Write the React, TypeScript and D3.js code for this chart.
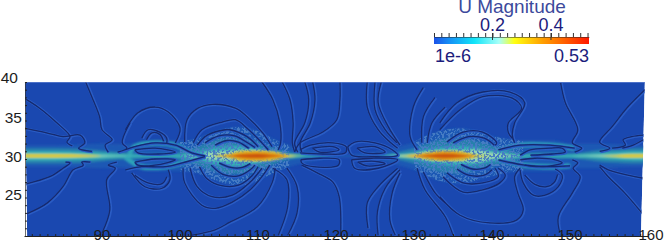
import React, { useEffect, useRef } from "react";
import * as d3 from "d3";

type Pt = [number, number];

const lonTicks = [90, 100, 110, 120, 130, 140, 150, 160];
const latTicks = [25, 30, 35, 40];
const barLabels = [0.2, 0.4];
const barDomain = [0.000001, 0.53];
const barColors = [
  [0, "#1c52e8"],
  [0.1, "#1590f5"],
  [0.26, "#10e4f8"],
  [0.42, "#a8fff8"],
  [0.52, "#ffff10"],
  [0.7, "#ffa000"],
  [1, "#ff1800"],
] as const;

// half width of each speed band around the jet axis, in degrees of latitude
const jetLon = [80, 84, 88, 90, 92, 94, 96, 98, 100, 102, 104, 106, 108, 110, 112, 114, 116, 118, 120, 122, 124, 126, 128, 130, 132, 134, 136, 138, 140, 142, 144, 146, 148, 150, 152, 154, 156, 158, 160];
const haloWidth = [1.4, 1.4, 1.5, 1.6, 1.5, 1.6, 2, 2, 2, 2.2, 3, 3.6, 3.8, 3.2, 2.2, 1.4, 0.9, 0.5, 0.2, 0.2, 0.4, 0.7, 1.2, 1.8, 2.8, 3.4, 3.6, 3.2, 2.6, 2.2, 2, 2, 2, 1.6, 1.6, 1.6, 1.5, 1.4, 1.4];
const tealWidth = [1, 1, 0.9, 0.7, 0.5, 0.4, 0.3, 0.3, 0.5, 1.1, 1.9, 2.3, 2.3, 1.9, 1.1, 0.5, 0.25, 0.1, 0, 0, 0, 0.1, 0.5, 1, 1.7, 2.2, 2.3, 1.9, 1.4, 0.7, 0.4, 0.4, 0.4, 0.3, 0.5, 0.8, 0.9, 1, 1];
const cyanWidth = [0.6, 0.6, 0.5, 0.4, 0.25, 0.2, 0.15, 0.15, 0.2, 0.5, 1, 1.3, 1.3, 1, 0.5, 0.25, 0.12, 0.05, 0, 0, 0, 0.05, 0.25, 0.45, 0.9, 1.2, 1.3, 1.1, 0.7, 0.4, 0.2, 0.15, 0.15, 0.2, 0.25, 0.4, 0.5, 0.6, 0.6];
const paleWidth = [0.3, 0.3, 0.2, 0.1, 0.05, 0, 0, 0, 0, 0.15, 0.5, 0.6, 0.7, 0.7, 0.4, 0.12, 0, 0, 0, 0, 0, 0, 0.1, 0.25, 0.6, 0.7, 0.7, 0.8, 0.4, 0.15, 0, 0, 0, 0, 0.05, 0.12, 0.2, 0.3, 0.3];
const yellowWidth = [0.14, 0.14, 0.08, 0, 0, 0, 0, 0, 0, 0, 0, 0.15, 0.6, 0.65, 0.5, 0.06, 0, 0, 0, 0, 0, 0, 0, 0.12, 0.45, 0.6, 0.55, 0.1, 0, 0, 0, 0, 0, 0, 0, 0, 0.06, 0.14, 0.14];
const orangeWidth = [0, 0, 0, 0, 0, 0, 0, 0, 0, 0, 0, 0.05, 0.42, 0.5, 0.3, 0, 0, 0, 0, 0, 0, 0, 0, 0.03, 0.3, 0.5, 0.35, 0, 0, 0, 0, 0, 0, 0, 0, 0, 0, 0, 0];
const redWidth = [0, 0, 0, 0, 0, 0, 0, 0, 0, 0, 0, 0, 0.15, 0.22, 0.05, 0, 0, 0, 0, 0, 0, 0, 0, 0, 0.1, 0.22, 0.1, 0, 0, 0, 0, 0, 0, 0, 0, 0, 0, 0, 0];

const bands: [number[], string][] = [
  [haloWidth, "#1f58b4"],
  [tealWidth, "#2680ac"],
  [cyanWidth, "#34aeb8"],
  [paleWidth, "#94d4b4"],
  [yellowWidth, "#d8c838"],
  [orangeWidth, "#e08a10"],
  [redWidth, "#c84808"],
];

// stretches of the jet where the field is mottled, as first and last index in jetLon
const mottled: Pt[] = [[8, 15], [23, 30]];

// the jet splits in two arms on the way between the hot cores
const jetArms: Pt[][] = [
  [[93.5, 30.6], [94.2, 31.6], [96.8, 32.1], [99.4, 31.8], [101.5, 30.8], [103.2, 30.4]],
  [[93, 30.2], [95.1, 29], [98.1, 29], [100.3, 29.5], [103.2, 30.3]],
  [[140.8, 31], [143.6, 31.8], [147.4, 31.8], [150.6, 31.4]],
  [[140.8, 29.9], [144.2, 29.2], [147.4, 29], [150, 29.1]],
];

const leftContours: Pt[][] = [
  [[80, 37.9], [82, 36.6], [84.2, 34.7], [85.9, 32.9], [85.5, 32.2], [86.2, 31.7]],
  [[80, 34], [82.9, 33.4], [85, 32.9], [87.2, 33.1], [87.8, 32.1], [87, 31.4], [88.7, 31]],
  [[87.9, 40], [88.7, 38.05], [89.7, 35.45], [90, 33.8], [91.3, 32.5], [90.4, 31.8], [90.8, 30.9]],
  [[80.2, 26.75], [83.3, 27.7], [85, 28.8], [85.9, 29.5], [85.3, 29.6]],
  [[80.4, 22.9], [83, 24.3], [85, 26.4], [86.3, 28.6], [87.6, 29.2], [87.4, 29.6], [88.5, 29.6]],
  [[90, 20.4], [91, 23.4], [90.6, 27.3], [91.7, 28.8], [90.8, 29.2], [91.9, 29.6]],
  [[93.6, 34.7], [92.6, 32.1], [93.2, 31.4], [92, 30.9]],
  [[93, 33.8], [94.6, 36], [96.8, 36.75], [98.5, 36.1], [100, 34], [99.4, 32.1]],
  [[95.1, 32.7], [95.9, 33.8], [97.4, 33.5], [98.3, 32.7], [98.3, 32.1]],
  [[95.7, 32.5], [96.4, 33.4], [97.4, 33.2], [97.9, 32.3]],
  [[93, 31.2], [94.2, 31.6], [96.8, 32.1], [99.4, 31.8], [101.5, 30.8], [103.2, 30.4]],
  [[93, 28.6], [95.1, 29], [98.1, 29], [100.3, 29.5], [103.2, 30.3]],
  [[94.2, 31.2], [96.8, 31.4], [99.4, 30.9], [97.2, 30.65], [94.6, 30.8], [94.2, 31.2]],
  [[94.2, 29.6], [96.8, 30], [99.4, 29.9], [96.8, 29.2], [94.6, 29.2], [94.2, 29.6]],
  [[93.8, 28.2], [95.5, 26.4], [97.7, 26.2], [98.7, 27.3], [98.5, 28.6]],
  [[94.2, 27.9], [95.9, 26.9], [97.7, 26.8], [98.3, 27.7]],
];

// rings round the western hot core
const westRings: Pt[][] = [
  [[100.6, 32.2], [100.9, 35.1], [102.3, 36.6], [104.1, 37.1], [107.1, 36.6], [108.6, 35.5], [110.6, 33.4], [111.8, 31.6]],
  [[101.7, 32.1], [102.8, 33.8], [105.4, 34.8], [107.1, 35.1], [108.6, 34], [110.5, 32.1], [111.3, 31.2]],
  [[102.2, 31.8], [103.5, 33.1], [105.8, 33.8], [106.4, 33.8], [108.6, 32.9], [110, 31.6]],
  [[103.2, 32.1], [105, 33], [107, 33], [108.5, 32.2], [109.6, 31.5]],
  [[104.5, 31.8], [106, 32.4], [107.5, 32.2], [108.8, 31.4]],
  [[101.5, 20.1], [104.5, 20.8], [106.4, 21.8], [109.9, 23.8], [111.8, 26.9], [112.2, 28.8]],
  [[100.4, 28.8], [100.6, 26.9], [102.8, 24], [104.5, 23.6], [106.7, 24.4], [109, 26], [110.5, 27.7], [111.5, 29.2]],
  [[101.3, 28.8], [102.2, 26.4], [104.1, 25.1], [106.7, 25.3], [109, 27], [110.5, 28.8]],
  [[102.5, 29], [103.5, 27.4], [105.5, 26.5], [107.5, 26.6], [109.2, 27.8], [110, 29]],
  [[104, 29.2], [105.5, 28], [107.5, 27.8], [109, 28.6], [109.6, 29.2]],
  [[105, 29.5], [106.5, 28.9], [108, 28.9], [109, 29.4]],
];

const midContours: Pt[][] = [
  [[110.5, 40], [111.9, 37.7], [112.8, 34.7], [112.9, 32.1], [112.6, 31.2]],
  [[113.1, 40], [114.1, 37.7], [114.5, 34.7], [114.4, 32.1], [114.7, 30.9]],
  [[116, 40], [116.5, 37.7], [116, 34.7], [114.7, 32.1], [115.1, 30.9]],
  [[117, 40], [117.3, 37.7], [116.7, 34.7], [115.4, 32.1], [115.6, 30.9]],
  [[120.5, 40], [120.5, 37.7], [120.1, 35.1], [118.3, 33.5], [115.4, 32.1], [114.7, 30.9]],
  [[115.4, 31.2], [116.7, 31.8], [119.6, 32.1], [121.3, 31.6], [121.2, 30.8], [118.3, 30.65], [115.4, 30.8]],
  [[117, 31.4], [119.6, 31.6], [120.4, 31.2], [117.9, 30.9], [117, 31.4]],
  [[115.5, 29.9], [117.9, 30.1], [120.4, 29.9], [120.3, 29.2], [117.1, 29], [115.6, 29.5], [115.5, 29.9]],
  [[115.6, 29.2], [117.6, 28.2], [119.6, 27], [120.4, 25.1], [120.6, 20]],
  [[111.9, 28.8], [113.7, 27.3], [113.8, 23.8], [112.6, 20.1]],
  [[113.7, 28.8], [115, 26.4], [115, 23], [113.8, 20.1]],
  [[124, 40], [124, 36.75], [125.4, 33.8], [126.9, 32.2], [127.9, 31.4]],
  [[125, 40], [125, 36.4], [126.3, 33.8], [127.8, 32.1]],
  [[125.8, 40], [125.4, 37.3], [126.7, 34.2], [128.2, 31.8]],
  [[121.5, 31.6], [122.4, 32.2], [125, 32.1], [127.2, 31.2], [127.9, 30.5], [124.6, 30.3], [122, 30.5], [121.5, 31.6]],
  [[122.7, 31.4], [125, 31.6], [126.3, 30.9], [123.7, 30.8], [122.7, 31.4]],
  [[122, 29.9], [124.6, 30.1], [127.9, 29.9], [125.4, 28.8], [122.4, 28.8], [122, 29.9]],
  [[122.8, 29.6], [125, 29.7], [126.3, 29.4], [124, 29.1], [122.8, 29.6]],
  [[127.9, 28.8], [125.4, 26.4], [124, 24.3], [124.1, 21]],
  [[128.2, 28.6], [126.3, 26.2], [125.3, 23.1], [125.4, 20.1]],
  [[128.2, 28.2], [127.2, 25.6], [126.9, 22.1], [127.6, 20.1]],
];

// rings round the eastern hot core
const eastRings: Pt[][] = [
  [[131.2, 39.3], [129.9, 36.75], [129.5, 32.9], [130.4, 31.2]],
  [[132.7, 38], [131.2, 35.5], [131, 32.1]],
  [[134, 36.75], [132.3, 34.7], [131.7, 32.1]],
  [[130.4, 28.8], [131.4, 26], [134, 22.5], [135, 20.1]],
  [[131.2, 28.3], [132.7, 25.6], [134, 24.3]],
  [[133.3, 34.7], [135.5, 37.3], [138.8, 38.7], [142.3, 38.7], [144.2, 37.3], [142.9, 34.7], [142.6, 33.1], [142.9, 32.1]],
  [[133.3, 33.8], [135.9, 36.4], [138.8, 38.1], [142.6, 37.9], [143.8, 36.6], [142.1, 34.7], [142.1, 33.4], [142.6, 32.7]],
  [[134.2, 32.2], [136.3, 33.5], [138.8, 33.5], [140.6, 32.1], [140.4, 31.8]],
  [[135, 32.1], [137, 32.9], [139, 32.7], [140.3, 31.8]],
  [[133.3, 25.1], [135.9, 22.7], [139.7, 21.7], [143.2, 22.1], [144, 23.4], [143.3, 25.6], [142.9, 27.7], [143.6, 28.8]],
  [[133.7, 27.7], [136.3, 25.7], [138.8, 26], [141, 26.9], [141.7, 27.9], [140.8, 28.8]],
  [[134.2, 28.2], [136.3, 26.9], [138.8, 26.9], [140.8, 27.7], [140.4, 28.8]],
  [[135.5, 28.7], [137, 27.9], [139, 27.9], [140, 28.6]],
  [[136, 29.3], [137.5, 28.7], [139, 28.8], [139.8, 29.3]],
];

const rightContours: Pt[][] = [
  [[143.6, 28.6], [144, 26.9], [145.3, 25.3], [146.8, 25.3], [148.5, 26.4], [149, 27.9], [148.1, 28.7]],
  [[144.2, 27.9], [145.5, 26.7], [147, 26.4], [148, 27], [148.4, 28]],
  [[140.8, 31.2], [143.6, 31.8], [147.4, 31.8], [150.6, 31.4]],
  [[140.8, 29.9], [144.2, 29.2], [147.4, 29], [150, 29.1]],
  [[143.6, 30.5], [144.9, 31.2], [147.4, 31.4], [149, 31.4], [149.4, 30.9], [147.7, 30.65], [144.9, 30.5]],
  [[143.6, 29.9], [145.5, 30.1], [148.1, 29.9], [149, 29.5], [146.2, 29], [144.2, 29.2]],
  [[148.8, 39.9], [149.4, 37.3], [151, 33.8], [150.3, 32.1], [151.5, 31.4], [150.6, 30.9]],
  [[148.7, 20.4], [148.5, 22.5], [150.3, 25.6], [151.3, 27.7], [150.4, 28.8], [151, 29.5], [150.3, 29.9]],
  [[159.6, 39], [157.4, 36.75], [155.4, 34.2], [153.8, 32.2], [155.1, 31.4], [153.8, 31]],
  [[159.4, 33.1], [157.9, 32.9], [156.8, 32.5], [157.1, 31.8], [155.4, 31.4]],
  [[159.4, 32.5], [158.1, 31.8], [156.7, 31.4]],
  [[159.4, 27.5], [156.2, 28.2], [154.9, 28.6], [153.8, 29.2]],
  [[159.2, 23], [157, 25.6], [154.9, 27.7], [153.8, 29]],
];

const WIDTH = 664;
const HEIGHT = 240;
const JET_AXIS = 30.4;

const App = () => {
  const svgRef = useRef<SVGSVGElement>(null);

  useEffect(() => {
    const svg = d3.select(svgRef.current);
    svg.selectAll("*").remove();

    const x = d3.scaleLinear().domain([80, 160]).range([24, 648]);
    const y = d3.scaleLinear().domain([20, 40]).range([236, 82]);

    const defs = svg.append("defs");
    const corners: Pt[] = [[80.1, 40], [159.6, 40], [159.1, 20], [80.4, 20]];
    const cornerLine = d3.line<Pt>().x((d) => x(d[0])).y((d) => y(d[1])).curve(d3.curveLinearClosed);
    defs.append("clipPath").attr("id", "plot-clip").append("path").attr("d", cornerLine(corners));

    defs.append("filter").attr("id", "soft").append("feGaussianBlur").attr("stdDeviation", 0.9);
    defs.append("filter").attr("id", "line-soft").append("feGaussianBlur").attr("stdDeviation", 0.4);

    // mottled look of the coarse cells close to the cores
    const speckle = defs.append("filter").attr("id", "speckle")
      .attr("x", 0).attr("y", 0).attr("width", 1).attr("height", 1);
    speckle.append("feTurbulence")
      .attr("type", "fractalNoise").attr("baseFrequency", 0.45).attr("numOctaves", 2).attr("seed", 3).attr("result", "n");
    speckle.append("feColorMatrix")
      .attr("in", "n").attr("type", "matrix")
      .attr("values", "0 0 0 0 0.06  0 0 0 0 0.2  0 0 0 0 0.55  0 0 0 9 -4.2").attr("result", "s");
    speckle.append("feComposite").attr("in", "s").attr("in2", "SourceAlpha").attr("operator", "in");

    const gradient = defs.append("linearGradient").attr("id", "bar-gradient");
    barColors.forEach(([o, c]) => {
      gradient.append("stop").attr("offset", `${o * 100}%`).attr("stop-color", c);
    });

    // field
    const plot = svg.append("g").attr("clip-path", "url(#plot-clip)");
    plot.append("path").attr("d", cornerLine(corners)).attr("fill", "#1a48b0");

    const field = plot.append("g").attr("filter", "url(#soft)");
    const band = d3
      .area<Pt>()
      .x((d) => x(d[0]))
      .y0((d) => y(JET_AXIS - d[1]))
      .y1((d) => y(JET_AXIS + d[1]))
      .curve(d3.curveMonotoneX);
    const bandPoints = (w: number[]) => w.map((v, i) => [jetLon[i], v] as Pt);
    field
      .selectAll("path.band")
      .data(bands)
      .join("path")
      .attr("class", "band")
      .attr("d", (d) => band(bandPoints(d[0])))
      .attr("fill", (d) => d[1]);

    const smooth = d3.line<Pt>().x((d) => x(d[0])).y((d) => y(d[1])).curve(d3.curveCatmullRom.alpha(0.5));
    field
      .selectAll("path.arm")
      .data(jetArms)
      .join("path")
      .attr("class", "arm")
      .attr("d", (d) => smooth(d))
      .attr("fill", "none")
      .attr("stroke", "#2ea4b8")
      .attr("stroke-width", 4.5);

    plot
      .selectAll("path.mottle")
      .data(mottled)
      .join("path")
      .attr("class", "mottle")
      .attr("d", (d) => band(bandPoints(haloWidth).slice(d[0], d[1] + 1)))
      .attr("filter", "url(#speckle)");

    // the hot cores sit on top of the mottling
    const cores = plot.append("g").attr("filter", "url(#soft)");
    cores
      .selectAll("path.core-band")
      .data(bands.slice(4))
      .join("path")
      .attr("class", "core-band")
      .attr("d", (d) => band(bandPoints(d[0])))
      .attr("fill", (d) => d[1]);

    // contours
    const contours = plot.append("g").attr("filter", "url(#line-soft)");
    const allContours = [...leftContours, ...westRings, ...midContours, ...eastRings, ...rightContours];
    contours
      .selectAll("path.shade")
      .data(allContours)
      .join("path")
      .attr("class", "shade")
      .attr("d", (d) => smooth(d))
      .attr("fill", "none")
      .attr("stroke", "#2a5cc4")
      .attr("stroke-width", 3)
      .attr("transform", "translate(0.8,0.4)");
    contours
      .selectAll("path.core")
      .data(allContours)
      .join("path")
      .attr("class", "core")
      .attr("d", (d) => smooth(d))
      .attr("fill", "none")
      .attr("stroke", "#14296e")
      .attr("stroke-width", 1.3);

    plot.append("line")
      .attr("x1", x(80.1)).attr("x2", x(159.6))
      .attr("y1", y(40)).attr("y2", y(40))
      .attr("stroke", "#7f9ae0");

    // axes
    const font = "'Liberation Sans', Arial, sans-serif";
    const bottom = svg.append("g").attr("transform", `translate(0,${y(20)})`)
      .call(d3.axisTop(x).tickValues(d3.range(81, 160)).tickSize(2).tickFormat(() => "").tickSizeOuter(0));
    bottom.select(".domain").attr("stroke", "#222").attr("stroke-width", 1);
    bottom.selectAll(".tick line").attr("stroke", "#222");
    const left = svg.append("g").attr("transform", `translate(${x(80) + 1},0)`)
      .call(d3.axisRight(y).tickValues(d3.range(21, 41)).tickSize(2).tickFormat(() => "").tickSizeOuter(0));
    left.select(".domain").attr("stroke", "#333").attr("stroke-opacity", 0.7);
    left.selectAll(".tick line").attr("stroke", "#222");

    svg.selectAll("text.lon")
      .data(lonTicks)
      .join("text")
      .attr("class", "lon")
      .attr("x", (d) => x(d) + (d === 160 ? 3 : 0))
      .attr("y", 239.5)
      .attr("text-anchor", "middle")
      .attr("font-family", font)
      .attr("font-size", 15)
      .attr("fill", "#1c1c1c")
      .text((d) => d);
    svg.selectAll("text.lat")
      .data(latTicks)
      .join("text")
      .attr("class", "lat")
      .attr("x", (d) => (d === 40 ? 18 : 22))
      .attr("y", (d) => y(d) + (d === 40 ? 0.5 : 2.5))
      .attr("text-anchor", "end")
      .attr("font-family", font)
      .attr("font-size", 15.5)
      .attr("fill", "#1c1c1c")
      .text((d) => d);

    // colour bar
    const bar = d3.scaleLinear().domain(barDomain).range([434, 589]);
    const barInk = "#1c1c7c";
    svg.append("rect")
      .attr("x", bar(barDomain[0])).attr("y", 37)
      .attr("width", bar(barDomain[1]) - bar(barDomain[0])).attr("height", 7)
      .attr("fill", "url(#bar-gradient)");
    const barAxis = svg.append("g").attr("transform", "translate(0,37)")
      .call(d3.axisTop(bar).tickValues(d3.range(0, 0.53, 0.025)).tickSize(4).tickFormat(() => "").tickSizeOuter(0));
    barAxis.select(".domain").attr("stroke", "#222").attr("stroke-opacity", 0.5);
    barAxis.selectAll(".tick line").attr("stroke", "#333");
    svg.selectAll("line.major")
      .data(barLabels)
      .join("line")
      .attr("class", "major")
      .attr("x1", (d) => bar(d)).attr("x2", (d) => bar(d))
      .attr("y1", 33).attr("y2", 40)
      .attr("stroke", "#333");
    svg.selectAll("text.barlabel")
      .data(barLabels)
      .join("text")
      .attr("class", "barlabel")
      .attr("x", (d) => bar(d))
      .attr("y", 31)
      .attr("text-anchor", "middle")
      .attr("font-family", font)
      .attr("font-size", 18)
      .attr("fill", barInk)
      .text((d) => d);
    const barText = (s: string, px: number, py: number, anchor: string, fill: string, size: number) =>
      svg.append("text")
        .attr("x", px).attr("y", py)
        .attr("text-anchor", anchor)
        .attr("font-family", font)
        .attr("font-size", size)
        .attr("fill", fill)
        .text(s);
    barText("U Magnitude", 512, 13, "middle", "#3c4a9c", 19);
    barText("1e-6", 435, 62, "start", barInk, 18);
    barText("0.53", 589, 62, "end", barInk, 18);
  }, []);

  return (
    <svg
      ref={svgRef}
      width={WIDTH}
      height={HEIGHT}
      style={{ position: "absolute", left: 0, top: 0, background: "#fff" }}
    />
  );
};

export default App;
